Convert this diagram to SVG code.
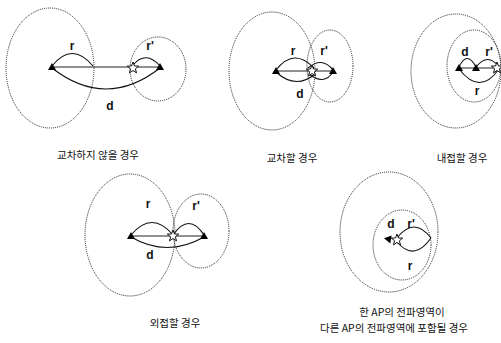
<svg xmlns="http://www.w3.org/2000/svg" width="501" height="343" viewBox="0 0 501 343">
<style>
.rng{fill:none;stroke:#222;stroke-width:1;stroke-dasharray:1 1}
.arc{fill:none;stroke:#111;stroke-width:1.1}
.ln{stroke:#222;stroke-width:1}
.lbl{font-family:"Liberation Sans",Arial,sans-serif;font-weight:bold;font-size:12px;fill:#111;text-anchor:middle}
.cap{font-family:"Noto Sans CJK KR","Noto Sans",sans-serif;font-size:10.5px;fill:#111;text-anchor:middle}
.star{fill:#fff;stroke:#111;stroke-width:1}
</style>
<defs>
<path id="tri" d="M-4,3 L0,-4 L4,3 Z" fill="#000"/>
<path id="star" class="star" d="M0,-6 L1.5,-2 L5.7,-1.9 L2.4,0.8 L3.5,4.9 L0,2.5 L-3.5,4.9 L-2.4,0.8 L-5.7,-1.9 L-1.5,-2 Z"/>
</defs>

<g id="connectors">
<!-- panel 1 -->
<line class="ln" x1="52" y1="67" x2="160" y2="67"/>
<path class="arc" d="M52,66 Q72,41 93,66"/>
<path class="arc" d="M133,65 Q146,50 160,66"/>
<path class="arc" d="M52,68 Q106,110 160,68"/>
<!-- panel 2 -->
<line class="ln" x1="276" y1="71" x2="333" y2="71"/>
<path class="arc" d="M276,70 Q294,47 314,68"/>
<path class="arc" d="M308,68 Q322,56 333,70"/>
<path class="arc" d="M276,72 Q296,90 315,74"/>
<path class="arc" d="M309,74 Q324,86 333,72"/>
<!-- panel 3 -->
<line class="ln" x1="459" y1="68" x2="498" y2="68"/>
<path class="arc" d="M459,67 Q467,50 476,67"/>
<path class="arc" d="M476,67 Q488,52 499,67"/>
<path class="arc" d="M459,69 Q480,96 499,69"/>
<!-- panel 4 -->
<line class="ln" x1="131" y1="236" x2="204" y2="236"/>
<path class="arc" d="M131,235 Q152,210 173,235"/>
<path class="arc" d="M173,235 Q189,212 204,235"/>
<path class="arc" d="M131,237 Q167,258 204,237"/>
<!-- panel 5 -->
<path class="arc" d="M397,238 Q414,216 431,238"/>
<path class="arc" d="M397,242 Q414,262 431,238"/>
</g>

<g id="panel1">
<ellipse class="rng" cx="50" cy="68" rx="44" ry="60"/>
<ellipse class="rng" cx="158" cy="69" rx="28" ry="32"/>
<use href="#tri" x="52" y="67"/>
<use href="#tri" x="160" y="67"/>
<use href="#star" x="133" y="68"/>
<text class="lbl" x="72" y="50">r</text>
<text class="lbl" x="150" y="50">r'</text>
<text class="lbl" x="110" y="110">d</text>
<text class="cap" x="98" y="159">교차하지 않을 경우</text>
</g>

<g id="panel2">
<ellipse class="rng" cx="272" cy="71" rx="43" ry="59"/>
<ellipse class="rng" cx="330" cy="66" rx="23" ry="36"/>
<use href="#tri" x="276" y="71"/>
<use href="#tri" x="333" y="71"/>
<use href="#star" x="312" y="71"/>
<text class="lbl" x="293" y="55">r</text>
<text class="lbl" x="324" y="55">r'</text>
<text class="lbl" x="300" y="98">d</text>
<text class="cap" x="292" y="162">교차할 경우</text>
</g>

<g id="panel3">
<ellipse class="rng" cx="456" cy="71" rx="45" ry="57"/>
<ellipse class="rng" cx="474" cy="66" rx="27" ry="36"/>
<use href="#tri" x="459" y="68"/>
<use href="#tri" x="476" y="68"/>
<use href="#star" x="497" y="68"/>
<text class="lbl" x="465" y="56">d</text>
<text class="lbl" x="489" y="56">r'</text>
<text class="lbl" x="477" y="95">r</text>
<text class="cap" x="462" y="162">내접할 경우</text>
</g>

<g id="panel4">
<ellipse class="rng" cx="130" cy="235" rx="45" ry="61"/>
<ellipse class="rng" cx="201" cy="231" rx="28" ry="37"/>
<use href="#tri" x="131" y="236"/>
<use href="#tri" x="204" y="236"/>
<use href="#star" x="173" y="236"/>
<text class="lbl" x="148" y="208">r</text>
<text class="lbl" x="196" y="210">r'</text>
<text class="lbl" x="150" y="259">d</text>
<text class="cap" x="175" y="327">외접할 경우</text>
</g>

<g id="panel5">
<ellipse class="rng" cx="389" cy="232" rx="49" ry="60"/>
<ellipse class="rng" cx="402" cy="245" rx="29" ry="35"/>
<use href="#tri" x="388" y="239" transform="rotate(-80 388 239)"/>
<use href="#star" x="397" y="240"/>
<text class="lbl" x="391" y="228">d</text>
<text class="lbl" x="411" y="228">r'</text>
<text class="lbl" x="410" y="270">r</text>
<text class="cap" x="402" y="316">한 AP의 전파영역이</text>
<text class="cap" x="394" y="332">다른 AP의 전파영역에 포함될 경우</text>
</g>
</svg>
